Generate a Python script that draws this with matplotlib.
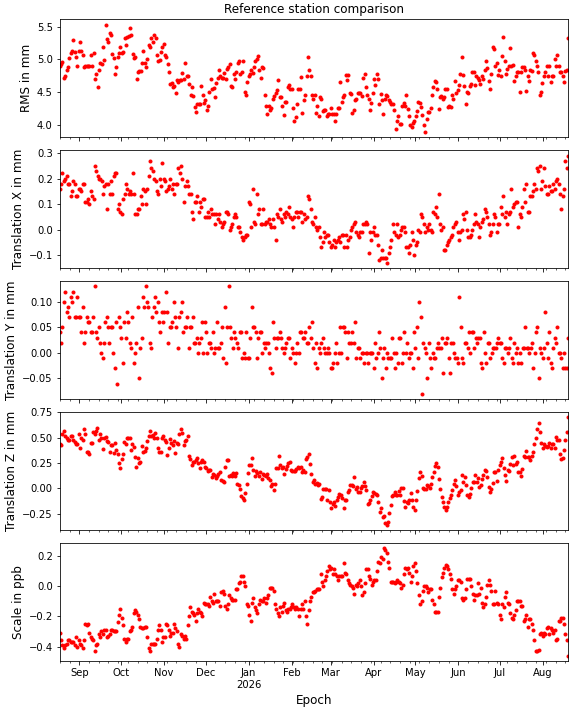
import numpy as np
import pandas as pd
import matplotlib
matplotlib.use('Agg')
import matplotlib.pyplot as plt
import matplotlib.dates as mdates
from matplotlib.ticker import FuncFormatter

# daily solutions, 2025-08-18 .. 2026-08-19
start, end = '2025-08-18', '2026-08-19'

rms = [
    4.90, 4.92, 4.96, 4.71, 4.75, 4.83, 4.88, 5.02, 5.10, 5.13,
    5.30, 5.11, 5.04, 4.90, 5.13, 5.26, 5.13, 5.06, 4.88, 4.89,
    4.90, 4.90, 4.89, 5.06, 4.90, 5.09, 4.70, 4.78, 4.58, 4.84,
    4.94, 4.92, 5.19, 4.99, 5.53, 5.31, 5.27, 5.40, 5.37, 5.08,
    5.02, 4.78, 4.88, 5.04, 5.09, 5.19, 5.09, 5.11, 5.33, 5.22,
    5.34, 5.36, 5.48, 5.37, 5.08, 5.02, 5.03, 4.70, 4.80, 4.82,
    4.82, 4.95, 5.13, 4.95, 4.88, 5.01, 5.22, 5.18, 5.33, 5.26,
    5.37, 5.33, 5.06, 4.97, 4.99, 5.11, 5.18, 5.24, 5.06, 5.04,
    4.92, 4.80, 4.62, 4.64, 4.57, 4.59, 4.48, 4.68, 4.66, 4.69,
    4.69, 4.79, 4.70, 4.94, 4.75, 4.74, 4.62, 4.46, 4.58, 4.44,
    4.27, 4.19, 4.31, 4.31, 4.31, 4.59, 4.45, 4.33, 4.37, 4.23,
    4.28, 4.50, 4.70, 4.54, 4.56, 4.42, 4.63, 4.71, 4.83, 4.75,
    4.71, 4.72, 4.79, 4.70, 4.85, 4.88, 4.92, 4.59, 4.57, 4.78,
    4.70, 4.80, 4.95, 4.97, 4.78, 4.80, 4.98, 4.50, 4.45, 4.65,
    4.74, 4.78, 4.84, 4.79, 4.88, 4.97, 5.00, 5.05, 4.84, 4.71,
    4.88, 4.87, 4.45, 4.29, 4.16, 4.28, 4.23, 4.26, 4.39, 4.44,
    4.49, 4.53, 4.69, 4.42, 4.43, 4.28, 4.15, 4.35, 4.34, 4.58,
    4.60, 4.54, 4.54, 4.26, 4.06, 4.11, 4.31, 4.54, 4.54, 4.73,
    4.18, 4.38, 4.46, 4.74, 5.03, 4.83, 4.74,
    4.46, 4.40, 4.46, 4.18, 4.28, 4.13, 4.43, 4.39, 4.21, 4.22,
    4.23, 4.13, 4.17, 4.16, 4.25, 4.16, 4.17, 4.05, 4.17, 4.25,
    4.26, 4.65, 4.34, 4.43, 4.46, 4.76, 4.68, 4.76, 4.49, 4.47,
    4.18, 4.22, 4.38, 4.40, 4.48, 4.48, 4.48, 4.44, 4.71, 4.78,
    4.57, 4.45, 4.40, 4.23, 4.33, 4.49, 4.70, 4.61, 4.78, 4.70,
    4.31, 4.47, 4.37, 4.17, 4.39, 4.45, 4.44, 4.38, 4.34, 4.31,
    4.31, 4.22, 3.93, 4.05, 4.14, 4.01, 4.01, 4.28, 4.33, 4.29,
    4.45, 4.24, 4.14, 4.00, 3.96, 4.03, 4.05, 4.14, 4.21, 4.35,
    4.33, 4.27, 4.15, 4.00, 3.89, 4.08, 4.19, 4.19, 4.26, 4.45,
    4.57, 4.67, 4.66, 4.54, 4.24, 4.42, 4.44, 4.40, 4.43, 4.55,
    4.54, 4.27, 4.29, 4.27, 4.46, 4.40, 4.67, 4.49, 4.53, 4.60,
    4.78, 5.03, 4.76, 4.59, 4.31, 4.50, 4.49, 4.59, 4.62, 4.80,
    4.80, 4.60, 4.74, 4.72, 4.69, 4.62, 4.75, 4.70, 4.83, 4.97,
    4.86, 4.67, 4.55, 4.78, 5.18, 5.16, 4.90, 4.95, 4.76, 4.83,
    4.74, 5.05, 5.34, 4.98, 4.77, 4.85, 4.90, 5.17, 4.90, 4.91,
    4.67, 4.74, 4.80, 4.80, 4.50, 4.80, 4.88, 4.88, 4.84, 4.51,
    4.74, 4.67, 4.83, 4.82, 5.10, 5.06, 4.97, 4.90, 4.80, 4.46,
    4.50, 4.63, 4.74, 4.80, 4.90, 4.74, 4.90, 4.66, 4.74, 4.74,
    5.00, 4.90, 5.06, 4.90, 4.80, 4.80, 4.75, 4.66, 4.82, 4.83,
    5.33,
]

trans_x = [
    0.16, 0.18, 0.22, 0.19, 0.20, 0.21, 0.18, 0.18, 0.13, 0.15,
    0.19, 0.18, 0.13, 0.13, 0.16, 0.16, 0.15, 0.18, 0.18, 0.11,
    0.11, 0.12, 0.10, 0.15, 0.13, 0.12, 0.25, 0.23, 0.21, 0.20,
    0.20, 0.19, 0.14, 0.17, 0.18, 0.08, 0.18, 0.14, 0.19, 0.14,
    0.21, 0.22, 0.22, 0.08, 0.10, 0.07, 0.06, 0.12, 0.14, 0.18,
    0.16, 0.14, 0.15, 0.14, 0.22, 0.14, 0.06, 0.06, 0.08, 0.08,
    0.13, 0.10, 0.16, 0.15, 0.10, 0.16, 0.21, 0.27, 0.24, 0.23,
    0.20, 0.19, 0.15, 0.14, 0.20, 0.17, 0.26, 0.20, 0.19, 0.15,
    0.16, 0.17, 0.20, 0.16, 0.18, 0.14, 0.18, 0.18, 0.24, 0.22,
    0.25, 0.20, 0.11, 0.17, 0.19, 0.17, 0.14, 0.14, 0.07, 0.04,
    0.11, 0.11, 0.13, 0.07, 0.11, 0.09, 0.12, 0.12, 0.05, 0.05,
    0.07, 0.05, 0.08, 0.06, 0.06, 0.02, 0.06, 0.04, 0.06, 0.03,
    0.01, 0.02, 0.03, 0.07, 0.07, 0.06, 0.00, 0.01, 0.02, 0.05,
    0.06, 0.05, 0.01, 0.01, -0.01, -0.03, -0.04, -0.03, -0.02, -0.02,
    0.11, 0.10, 0.01, 0.16, 0.03, 0.02, 0.14, 0.06, 0.08, 0.02,
    0.02, 0.08, 0.02, 0.03, 0.03, 0.04, 0.02, 0.01, 0.04, 0.01,
    -0.04, 0.06, 0.05, 0.08, 0.04, 0.03, 0.06, 0.05, 0.07, 0.06,
    0.09, 0.05, 0.04, 0.01, 0.05, 0.07, 0.07, 0.05, 0.07, 0.07,
    0.03, 0.06, 0.04, 0.05, 0.13, 0.12, 0.08, 0.03,
    0.02, 0.05, 0.01, 0.00, 0.01, -0.03, -0.07, -0.05, -0.01, -0.03,
    -0.02, -0.02, -0.05, -0.07, -0.06, -0.04, -0.07, -0.05, -0.04, -0.03,
    -0.05, -0.02, -0.02, -0.07, -0.02, -0.07, -0.04, -0.03, 0.00, 0.01,
    0.02, 0.03, -0.01, -0.02, -0.03, -0.01, -0.01, 0.02, 0.02, 0.03,
    0.02, -0.09, -0.01, -0.04, -0.01, 0.01, -0.02, -0.02, -0.06, -0.12,
    -0.11, -0.08, -0.11, -0.11, -0.11, -0.13, -0.09, -0.07, -0.04, 0.02,
    -0.01, -0.02, 0.02, -0.03, -0.02, 0.00, 0.01, 0.01, -0.01, -0.07,
    -0.07, -0.09, -0.06, -0.01, -0.04, -0.10, -0.06, -0.05, 0.00, -0.01,
    0.06, 0.05, 0.02, -0.01, 0.01, 0.00, 0.02, 0.00, -0.01, 0.07,
    0.06, 0.09, 0.05, 0.14, 0.02, 0.00, 0.01, -0.08, -0.08, -0.06,
    -0.05, -0.04, -0.03, -0.02, 0.01, 0.02, 0.03, -0.01, -0.04, -0.01,
    0.00, 0.06, 0.04, 0.07, 0.00, -0.03, -0.03, -0.02, 0.00, 0.02,
    0.06, 0.03, 0.02, -0.03, 0.01, 0.03, 0.04, 0.08, 0.07, 0.05,
    0.02, -0.02, -0.01, 0.02, 0.06, 0.05, -0.01, 0.02, 0.02, 0.09,
    0.06, 0.13, 0.05, 0.07, 0.02, 0.06, 0.07, 0.16, 0.09, 0.10,
    0.11, 0.11, 0.01, 0.06, 0.05, 0.09, 0.16, 0.11, 0.18, 0.07,
    0.07, 0.13, 0.13, 0.15, 0.18, 0.16, 0.24, 0.23, 0.25, 0.16,
    0.19, 0.24, 0.17, 0.14, 0.14, 0.17, 0.15, 0.15, 0.18, 0.16,
    0.19, 0.20, 0.18, 0.14, 0.08, 0.13, 0.16, 0.27, 0.24, 0.29,
]

trans_y = [
    0.04, 0.02, 0.05, 0.10, 0.12, 0.08, 0.09, 0.07, 0.11, 0.10,
    0.12, 0.07, 0.07, 0.11, 0.07, 0.07, 0.04, 0.09, 0.02, 0.04,
    0.07, 0.06, 0.06, 0.04, 0.04, 0.07, 0.13, 0.04, 0.03, 0.05,
    0.02, 0.00, -0.01, 0.02, 0.06, 0.07, 0.05, 0.02, 0.05, 0.05,
    0.00, -0.03, 0.06, -0.06, 0.07, 0.05, 0.03, -0.02, 0.06, 0.03,
    0.08, 0.06, 0.02, 0.01, 0.07, -0.02, 0.00, 0.02, 0.09, -0.05,
    0.01, 0.03, 0.11, 0.09, 0.13, 0.10, 0.09, 0.02, 0.01, 0.07,
    0.09, 0.11, 0.08, 0.10, 0.06, 0.04, 0.08, 0.06, 0.08, 0.12,
    0.08, 0.02, 0.05, 0.05, 0.06, 0.10, 0.07, 0.05, 0.01, 0.07,
    0.08, 0.10, 0.04, 0.05, 0.05, 0.07, 0.01, 0.05, 0.05, 0.07,
    0.02, 0.02, 0.03, 0.00, 0.02, 0.03, 0.06, 0.00, 0.06, 0.04,
    0.00, 0.02, 0.02, 0.01, 0.04, 0.00, 0.01, 0.06, 0.01, 0.01,
    0.02, 0.05, -0.01, 0.09, -0.02, 0.05, 0.13, 0.05, 0.03, 0.01,
    0.04, 0.03, 0.02, 0.01, 0.04, 0.04, -0.01, 0.00, -0.01, 0.04,
    -0.01, -0.01, 0.03, 0.09, 0.05, 0.05, 0.04, -0.01, 0.03, 0.04,
    0.04, 0.00, 0.02, 0.01, 0.02, 0.02, 0.00, -0.03, -0.04, 0.06,
    0.03, 0.01, 0.03, 0.03, 0.04, 0.03, 0.01, 0.00, 0.01, 0.02,
    0.03, 0.03, -0.01, 0.01, 0.00, -0.02, 0.00, 0.02, 0.00, 0.04,
    0.04, 0.03, 0.03, 0.04, 0.02, 0.02, 0.05, 0.03,
    0.06, 0.01, -0.02, 0.02, -0.03, 0.01, 0.00, 0.02, 0.03, 0.01,
    0.00, 0.00, 0.01, 0.00, -0.03, -0.03, -0.02, 0.00, 0.02, -0.02,
    0.00, 0.05, 0.00, 0.05, 0.05, 0.04, -0.01, 0.04, 0.02, 0.02,
    0.04, 0.02, 0.06, -0.01, 0.01, 0.01, -0.01, 0.00, 0.00, -0.02,
    0.00, 0.00, -0.02, 0.00, 0.00, 0.00, -0.03, 0.02, -0.01, 0.00,
    0.04, 0.01, -0.05, -0.01, 0.01, -0.03, 0.00, -0.01, -0.01, -0.01,
    0.03, 0.00, -0.03, 0.00, -0.02, 0.03, 0.03, -0.02, 0.00, 0.04,
    0.00, 0.02, -0.01, 0.00, 0.00, -0.03, 0.04, 0.01, 0.05, -0.01,
    0.10, 0.07, -0.08, 0.02, 0.01, 0.00, -0.05, 0.02, -0.01, -0.03,
    0.00, -0.01, -0.01, 0.01, 0.02, 0.01, 0.01, 0.03, -0.04, 0.02,
    0.02, 0.03, -0.01, -0.04, 0.02, 0.02, 0.00, -0.01, -0.01, -0.02,
    0.11, 0.05, -0.01, -0.02, 0.02, 0.02, 0.01, 0.04, 0.00, 0.04,
    0.04, 0.01, 0.03, 0.02, 0.03, 0.03, -0.02, -0.03, 0.04, 0.00,
    -0.02, 0.02, 0.02, -0.01, 0.00, 0.01, 0.01, 0.01, 0.02, 0.03,
    0.02, 0.02, -0.01, -0.02, 0.01, 0.01, 0.00, 0.01, 0.03, -0.01,
    -0.02, 0.02, 0.00, 0.01, -0.02, 0.00, -0.02, 0.01, 0.01, 0.05,
    0.01, 0.01, 0.00, 0.01, 0.02, -0.03, 0.00, 0.04, 0.05, -0.05,
    0.01, 0.00, -0.01, 0.01, 0.08, 0.02, -0.01, 0.04, -0.02, -0.03,
    0.01, 0.03, 0.02, 0.05, 0.00, 0.00, -0.01, -0.03, 0.00, -0.03,
    -0.03, 0.03,
]

trans_z = [
    0.44, 0.43, 0.54, 0.57, 0.52, 0.50, 0.48, 0.48, 0.52, 0.52,
    0.48, 0.46, 0.44, 0.44, 0.54, 0.40, 0.50, 0.48, 0.59, 0.54,
    0.36, 0.36, 0.34, 0.45, 0.45, 0.56, 0.54, 0.57, 0.60, 0.48,
    0.54, 0.50, 0.39, 0.50, 0.51, 0.47, 0.46, 0.36, 0.43, 0.43,
    0.35, 0.45, 0.38, 0.34, 0.25, 0.20, 0.29, 0.34, 0.46, 0.44,
    0.50, 0.50, 0.50, 0.38, 0.44, 0.41, 0.31, 0.21, 0.30, 0.25,
    0.26, 0.42, 0.36, 0.37, 0.40, 0.47, 0.52, 0.57, 0.52, 0.53,
    0.50, 0.55, 0.50, 0.40, 0.36, 0.36, 0.50, 0.52, 0.48, 0.46,
    0.33, 0.40, 0.49, 0.45, 0.43, 0.47, 0.35, 0.45, 0.44, 0.54,
    0.59, 0.55, 0.43, 0.47, 0.48, 0.52, 0.32, 0.29, 0.23, 0.26,
    0.26, 0.28, 0.30, 0.25, 0.20, 0.26, 0.28, 0.26, 0.21, 0.20,
    0.17, 0.18, 0.18, 0.11, 0.14, 0.13, 0.10, 0.12, 0.14, 0.16,
    0.08, 0.07, 0.06, 0.21, 0.28, 0.28, 0.12, 0.13, 0.12, 0.15,
    0.12, 0.15, 0.04, 0.03, -0.01, -0.08, -0.10, -0.12, -0.05, 0.04,
    0.15, 0.23, 0.23, 0.30, 0.18, 0.12, 0.17, 0.15, 0.12, 0.16,
    0.09, 0.14, 0.13, 0.12, 0.14, 0.10, 0.08, 0.02, 0.04, -0.02,
    0.04, 0.20, 0.20, 0.32, 0.23, 0.20, 0.21, 0.14, 0.19, 0.22,
    0.25, 0.26, 0.18, 0.17, 0.17, 0.17, 0.19, 0.21, 0.20, 0.21,
    0.16, 0.18, 0.16, 0.29, 0.31, 0.34, 0.24, 0.14,
    0.06, 0.08, 0.04, 0.05, 0.03, 0.04, -0.11, -0.09, -0.01, -0.01,
    -0.01, -0.12, -0.02, -0.14, -0.20, -0.16, -0.14, -0.18, -0.12, -0.09,
    -0.06, -0.07, -0.10, -0.20, -0.12, -0.12, -0.04, -0.02, 0.03, 0.03,
    0.02, 0.11, -0.01, 0.01, -0.04, -0.04, 0.00, 0.02, 0.06, 0.02,
    -0.02, -0.16, -0.15, -0.12, -0.08, -0.04, -0.05, -0.06, -0.07, -0.14,
    -0.23, -0.20, -0.28, -0.27, -0.34, -0.36, -0.33, -0.24, -0.17, -0.08,
    -0.07, -0.04, -0.07, -0.07, -0.03, -0.07, 0.00, 0.00, -0.13, -0.19,
    -0.14, -0.15, -0.12, -0.05, -0.12, -0.19, -0.22, -0.12, -0.03, 0.10,
    0.16, 0.12, 0.00, -0.01, -0.01, 0.03, 0.02, 0.00, 0.04, 0.11,
    0.16, 0.22, 0.25, 0.21, 0.09, -0.01, -0.09, -0.14, -0.19, -0.22,
    -0.19, -0.14, -0.10, -0.07, -0.02, 0.04, 0.08, 0.02, -0.07, -0.04,
    -0.02, 0.13, 0.06, 0.11, 0.03, -0.07, -0.09, -0.06, 0.00, 0.06,
    0.06, 0.13, 0.06, 0.10, 0.01, 0.03, 0.09, 0.13, 0.18, 0.17,
    0.11, 0.01, -0.04, -0.01, 0.05, 0.16, 0.16, 0.07, 0.18, 0.23,
    0.26, 0.30, 0.20, 0.13, 0.07, 0.18, 0.17, 0.24, 0.31, 0.23,
    0.32, 0.24, 0.26, 0.16, 0.16, 0.12, 0.19, 0.32, 0.31, 0.37,
    0.31, 0.31, 0.28, 0.32, 0.36, 0.44, 0.50, 0.59, 0.64, 0.56,
    0.45, 0.40, 0.44, 0.42, 0.41, 0.42, 0.45, 0.40, 0.44, 0.44,
    0.40, 0.51, 0.48, 0.48, 0.34, 0.29, 0.30, 0.38, 0.48, 0.56,
    0.70,
]

scale = [
    -0.31, -0.36, -0.39, -0.41, -0.39, -0.38, -0.36, -0.36, -0.37, -0.37,
    -0.37, -0.39, -0.34, -0.40, -0.36, -0.38, -0.39, -0.41, -0.36, -0.25,
    -0.26, -0.25, -0.31, -0.34, -0.35, -0.36, -0.43, -0.39, -0.38, -0.32,
    -0.34, -0.30, -0.32, -0.29, -0.29, -0.34, -0.33, -0.32, -0.29, -0.29,
    -0.30, -0.30, -0.30, -0.24, -0.19, -0.15, -0.21, -0.26, -0.35, -0.37,
    -0.35, -0.35, -0.30, -0.29, -0.27, -0.18, -0.16, -0.17, -0.19, -0.22,
    -0.27, -0.28, -0.28, -0.27, -0.27, -0.34, -0.41, -0.43, -0.38, -0.38,
    -0.38, -0.38, -0.35, -0.29, -0.26, -0.29, -0.37, -0.34, -0.34, -0.25,
    -0.26, -0.29, -0.33, -0.31, -0.31, -0.25, -0.28, -0.30, -0.38, -0.40,
    -0.32, -0.33, -0.35, -0.33, -0.35, -0.26, -0.20, -0.14, -0.17, -0.18,
    -0.19, -0.23, -0.18, -0.15, -0.17, -0.18, -0.20, -0.11, -0.12, -0.12,
    -0.12, -0.13, -0.07, -0.10, -0.11, -0.05, -0.10, -0.10, -0.10, -0.13,
    -0.04, -0.03, -0.05, -0.13, -0.15, -0.12, -0.06, -0.08, -0.09, -0.09,
    -0.09, -0.02, -0.02, 0.02, 0.03, 0.07, 0.07, 0.03, 0.00, -0.12,
    -0.13, -0.19, -0.23, -0.11, -0.08, -0.14, -0.16, -0.18, -0.12, -0.09,
    -0.10, -0.10, -0.08, -0.11, -0.08, -0.06, -0.01, -0.01, -0.01, -0.03,
    -0.12, -0.15, -0.18, -0.20, -0.14, -0.17, -0.13, -0.11, -0.16, -0.17,
    -0.15, -0.15, -0.14, -0.12, -0.14, -0.15, -0.14, -0.15, -0.20, -0.15,
    -0.12, -0.15, -0.10, -0.20, -0.25, -0.16, -0.10,
    -0.07, -0.04, -0.04, -0.03, -0.02, -0.02, -0.02, 0.08, 0.03, 0.00,
    0.04, 0.07, 0.10, 0.13, 0.11, 0.12, 0.08, 0.11, 0.08, 0.07,
    0.04, 0.07, 0.07, 0.07, 0.15, 0.09, 0.08, 0.04, 0.02, 0.01,
    0.00, -0.01, -0.05, 0.01, 0.00, 0.02, 0.04, 0.00, -0.06, -0.04,
    0.02, 0.11, 0.11, 0.07, 0.05, 0.01, 0.03, 0.04, 0.04, 0.10,
    0.16, 0.15, 0.19, 0.18, 0.25, 0.24, 0.22, 0.16, 0.12, 0.03,
    0.03, 0.03, 0.02, 0.03, 0.04, 0.03, 0.02, -0.01, 0.01, 0.08,
    0.12, 0.11, 0.12, 0.09, 0.03, 0.07, 0.13, 0.15, 0.10, 0.02,
    -0.06, -0.12, -0.10, -0.03, 0.00, 0.00, -0.01, -0.04, -0.02, -0.02,
    -0.09, -0.12, -0.17, -0.17, -0.17, -0.07, -0.01, 0.06, 0.09, 0.12,
    0.14, 0.13, 0.11, 0.08, 0.05, -0.02, -0.05, -0.02, 0.00, 0.04,
    0.04, 0.03, -0.08, -0.09, -0.08, -0.02, 0.05, 0.05, 0.05, 0.00,
    -0.05, -0.09, -0.06, -0.06, 0.02, -0.05, -0.01, -0.11, -0.14, -0.12,
    -0.07, 0.01, 0.04, 0.01, -0.03, -0.12, -0.12, -0.03, -0.11, -0.12,
    -0.19, -0.22, -0.12, -0.14, -0.07, -0.04, -0.11, -0.12, -0.18, -0.21,
    -0.22, -0.19, -0.16, -0.10, -0.10, -0.10, -0.13, -0.13, -0.23, -0.22,
    -0.19, -0.27, -0.22, -0.22, -0.25, -0.29, -0.36, -0.43, -0.43, -0.42,
    -0.32, -0.31, -0.33, -0.31, -0.32, -0.28, -0.27, -0.32, -0.28, -0.29,
    -0.31, -0.29, -0.36, -0.35, -0.23, -0.23, -0.21, -0.21, -0.25, -0.32,
    -0.36, -0.46,
]

series = [
    (rms, 'RMS in mm'),
    (trans_x, 'Translation X in mm'),
    (trans_y, 'Translation Y in mm'),
    (trans_z, 'Translation Z in mm'),
    (scale, 'Scale in ppb'),
]


def month_label(x, pos=None):
    d = mdates.num2date(x)
    if d.month == 1:
        return d.strftime('%b\n%Y')
    return d.strftime('%b')


fig, axes = plt.subplots(5, 1, sharex=True, figsize=(575 / 72, 713 / 72), dpi=72)
fig.subplots_adjust(left=0.104, right=0.988, top=0.973, bottom=0.073, hspace=0.11)

for ax, (vals, label) in zip(axes, series):
    epochs = pd.date_range(start, end, periods=len(vals))
    ax.plot(epochs, vals, '.', color='red')
    ax.set_ylabel(label, fontsize=12)

axes[0].set_title('Reference station comparison')
axes[-1].set_xlim(pd.Timestamp(start), pd.Timestamp(end))
axes[-1].xaxis.set_major_locator(mdates.MonthLocator())
axes[-1].xaxis.set_minor_locator(mdates.WeekdayLocator(byweekday=mdates.MO))
axes[-1].xaxis.set_major_formatter(FuncFormatter(month_label))
for lab in axes[-1].get_xticklabels():
    lab.set_horizontalalignment('center')
axes[-1].set_xlabel('Epoch', fontsize=12)

plt.savefig('out.png', dpi=72)
